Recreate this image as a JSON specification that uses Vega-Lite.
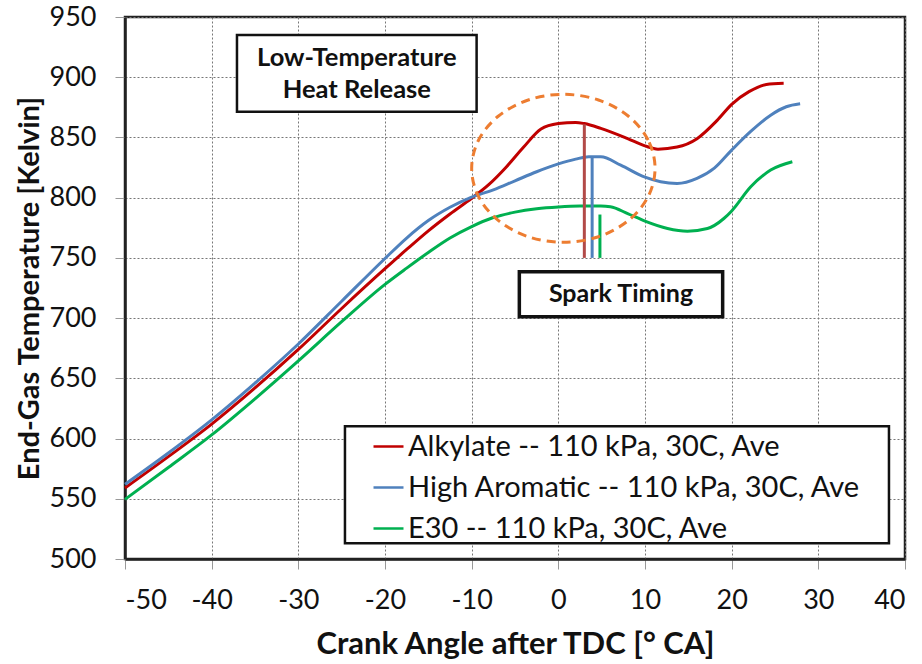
{
  "$schema": "https://vega.github.io/schema/vega-lite/v6.json",
  "width": 780,
  "height": 542,
  "autosize": {"type": "none"},
  "padding": {"left": 125, "top": 17, "right": 17, "bottom": 105},
  "background": "white",
  "config": {
    "font": "Lato",
    "view": {"stroke": "#222222", "strokeWidth": 2.5},
    "axis": {
      "labelFont": "Lato", "labelFontSize": 27, "labelColor": "#111111",
      "titleFont": "Lato", "titleFontWeight": "bold", "titleColor": "#111111",
      "grid": true, "gridColor": "#777777", "gridDash": [2, 2], "gridWidth": 1,
      "tickColor": "#999999", "tickSize": 10, "tickWidth": 1,
      "domainColor": "#222222", "domainWidth": 2.5
    }
  },
  "datasets": {
    "curves": [
      {"fuel": "Alkylate -- 110 kPa, 30C, Ave", "angle": -50, "temp": 559},
      {"fuel": "Alkylate -- 110 kPa, 30C, Ave", "angle": -45, "temp": 585},
      {"fuel": "Alkylate -- 110 kPa, 30C, Ave", "angle": -40, "temp": 612},
      {"fuel": "Alkylate -- 110 kPa, 30C, Ave", "angle": -35, "temp": 642},
      {"fuel": "Alkylate -- 110 kPa, 30C, Ave", "angle": -30, "temp": 674},
      {"fuel": "Alkylate -- 110 kPa, 30C, Ave", "angle": -25, "temp": 708},
      {"fuel": "Alkylate -- 110 kPa, 30C, Ave", "angle": -20, "temp": 741},
      {"fuel": "Alkylate -- 110 kPa, 30C, Ave", "angle": -17.5, "temp": 757},
      {"fuel": "Alkylate -- 110 kPa, 30C, Ave", "angle": -15, "temp": 772.5},
      {"fuel": "Alkylate -- 110 kPa, 30C, Ave", "angle": -12.5, "temp": 786.5},
      {"fuel": "Alkylate -- 110 kPa, 30C, Ave", "angle": -10, "temp": 799.5},
      {"fuel": "Alkylate -- 110 kPa, 30C, Ave", "angle": -8, "temp": 811},
      {"fuel": "Alkylate -- 110 kPa, 30C, Ave", "angle": -6, "temp": 825.5},
      {"fuel": "Alkylate -- 110 kPa, 30C, Ave", "angle": -4, "temp": 842},
      {"fuel": "Alkylate -- 110 kPa, 30C, Ave", "angle": -2, "temp": 857},
      {"fuel": "Alkylate -- 110 kPa, 30C, Ave", "angle": 0, "temp": 861.5},
      {"fuel": "Alkylate -- 110 kPa, 30C, Ave", "angle": 2, "temp": 862.5},
      {"fuel": "Alkylate -- 110 kPa, 30C, Ave", "angle": 3, "temp": 861.5},
      {"fuel": "Alkylate -- 110 kPa, 30C, Ave", "angle": 4.9, "temp": 857.5},
      {"fuel": "Alkylate -- 110 kPa, 30C, Ave", "angle": 8, "temp": 849},
      {"fuel": "Alkylate -- 110 kPa, 30C, Ave", "angle": 10, "temp": 843},
      {"fuel": "Alkylate -- 110 kPa, 30C, Ave", "angle": 11.5, "temp": 840.3},
      {"fuel": "Alkylate -- 110 kPa, 30C, Ave", "angle": 13.7, "temp": 842},
      {"fuel": "Alkylate -- 110 kPa, 30C, Ave", "angle": 16, "temp": 849},
      {"fuel": "Alkylate -- 110 kPa, 30C, Ave", "angle": 18.3, "temp": 864},
      {"fuel": "Alkylate -- 110 kPa, 30C, Ave", "angle": 20, "temp": 877.5},
      {"fuel": "Alkylate -- 110 kPa, 30C, Ave", "angle": 22, "temp": 888},
      {"fuel": "Alkylate -- 110 kPa, 30C, Ave", "angle": 24, "temp": 894},
      {"fuel": "Alkylate -- 110 kPa, 30C, Ave", "angle": 26, "temp": 895},
      {"fuel": "High Aromatic -- 110 kPa, 30C, Ave", "angle": -50, "temp": 562},
      {"fuel": "High Aromatic -- 110 kPa, 30C, Ave", "angle": -45, "temp": 588},
      {"fuel": "High Aromatic -- 110 kPa, 30C, Ave", "angle": -40, "temp": 615.5},
      {"fuel": "High Aromatic -- 110 kPa, 30C, Ave", "angle": -35, "temp": 646},
      {"fuel": "High Aromatic -- 110 kPa, 30C, Ave", "angle": -30, "temp": 678.5},
      {"fuel": "High Aromatic -- 110 kPa, 30C, Ave", "angle": -25, "temp": 714},
      {"fuel": "High Aromatic -- 110 kPa, 30C, Ave", "angle": -20, "temp": 749.5},
      {"fuel": "High Aromatic -- 110 kPa, 30C, Ave", "angle": -17.5, "temp": 766.5},
      {"fuel": "High Aromatic -- 110 kPa, 30C, Ave", "angle": -15, "temp": 781},
      {"fuel": "High Aromatic -- 110 kPa, 30C, Ave", "angle": -12.5, "temp": 792},
      {"fuel": "High Aromatic -- 110 kPa, 30C, Ave", "angle": -10, "temp": 800.5},
      {"fuel": "High Aromatic -- 110 kPa, 30C, Ave", "angle": -7.5, "temp": 806.5},
      {"fuel": "High Aromatic -- 110 kPa, 30C, Ave", "angle": -5, "temp": 814},
      {"fuel": "High Aromatic -- 110 kPa, 30C, Ave", "angle": -2.5, "temp": 821.5},
      {"fuel": "High Aromatic -- 110 kPa, 30C, Ave", "angle": 0, "temp": 828},
      {"fuel": "High Aromatic -- 110 kPa, 30C, Ave", "angle": 2, "temp": 832},
      {"fuel": "High Aromatic -- 110 kPa, 30C, Ave", "angle": 3.5, "temp": 834},
      {"fuel": "High Aromatic -- 110 kPa, 30C, Ave", "angle": 4.9, "temp": 834},
      {"fuel": "High Aromatic -- 110 kPa, 30C, Ave", "angle": 7.2, "temp": 827},
      {"fuel": "High Aromatic -- 110 kPa, 30C, Ave", "angle": 10, "temp": 817},
      {"fuel": "High Aromatic -- 110 kPa, 30C, Ave", "angle": 11.8, "temp": 813.2},
      {"fuel": "High Aromatic -- 110 kPa, 30C, Ave", "angle": 13.7, "temp": 811.8},
      {"fuel": "High Aromatic -- 110 kPa, 30C, Ave", "angle": 16, "temp": 816},
      {"fuel": "High Aromatic -- 110 kPa, 30C, Ave", "angle": 18, "temp": 824.5},
      {"fuel": "High Aromatic -- 110 kPa, 30C, Ave", "angle": 20, "temp": 839.5},
      {"fuel": "High Aromatic -- 110 kPa, 30C, Ave", "angle": 22.2, "temp": 855},
      {"fuel": "High Aromatic -- 110 kPa, 30C, Ave", "angle": 24.5, "temp": 868.5},
      {"fuel": "High Aromatic -- 110 kPa, 30C, Ave", "angle": 26.3, "temp": 875.5},
      {"fuel": "High Aromatic -- 110 kPa, 30C, Ave", "angle": 27.9, "temp": 878},
      {"fuel": "E30 -- 110 kPa, 30C, Ave", "angle": -50, "temp": 549.5},
      {"fuel": "E30 -- 110 kPa, 30C, Ave", "angle": -45, "temp": 576},
      {"fuel": "E30 -- 110 kPa, 30C, Ave", "angle": -40, "temp": 603},
      {"fuel": "E30 -- 110 kPa, 30C, Ave", "angle": -35, "temp": 633},
      {"fuel": "E30 -- 110 kPa, 30C, Ave", "angle": -30, "temp": 664.5},
      {"fuel": "E30 -- 110 kPa, 30C, Ave", "angle": -25, "temp": 697},
      {"fuel": "E30 -- 110 kPa, 30C, Ave", "angle": -20, "temp": 728},
      {"fuel": "E30 -- 110 kPa, 30C, Ave", "angle": -17.5, "temp": 741.5},
      {"fuel": "E30 -- 110 kPa, 30C, Ave", "angle": -15, "temp": 754.5},
      {"fuel": "E30 -- 110 kPa, 30C, Ave", "angle": -12.5, "temp": 766.5},
      {"fuel": "E30 -- 110 kPa, 30C, Ave", "angle": -10, "temp": 776},
      {"fuel": "E30 -- 110 kPa, 30C, Ave", "angle": -7.5, "temp": 783.5},
      {"fuel": "E30 -- 110 kPa, 30C, Ave", "angle": -5, "temp": 788},
      {"fuel": "E30 -- 110 kPa, 30C, Ave", "angle": -2.5, "temp": 790.8},
      {"fuel": "E30 -- 110 kPa, 30C, Ave", "angle": 0, "temp": 792.3},
      {"fuel": "E30 -- 110 kPa, 30C, Ave", "angle": 2.5, "temp": 793},
      {"fuel": "E30 -- 110 kPa, 30C, Ave", "angle": 4.9, "temp": 793},
      {"fuel": "E30 -- 110 kPa, 30C, Ave", "angle": 6, "temp": 792.4},
      {"fuel": "E30 -- 110 kPa, 30C, Ave", "angle": 8, "temp": 786.8},
      {"fuel": "E30 -- 110 kPa, 30C, Ave", "angle": 10, "temp": 780.5},
      {"fuel": "E30 -- 110 kPa, 30C, Ave", "angle": 12.6, "temp": 774.4},
      {"fuel": "E30 -- 110 kPa, 30C, Ave", "angle": 14.9, "temp": 772.2},
      {"fuel": "E30 -- 110 kPa, 30C, Ave", "angle": 17.2, "temp": 774.4},
      {"fuel": "E30 -- 110 kPa, 30C, Ave", "angle": 19.1, "temp": 782.7},
      {"fuel": "E30 -- 110 kPa, 30C, Ave", "angle": 20, "temp": 789},
      {"fuel": "E30 -- 110 kPa, 30C, Ave", "angle": 22.2, "temp": 809},
      {"fuel": "E30 -- 110 kPa, 30C, Ave", "angle": 24.5, "temp": 822.9},
      {"fuel": "E30 -- 110 kPa, 30C, Ave", "angle": 27, "temp": 829.8}
    ],
    "spark": [
      {"fuel": "Alkylate -- 110 kPa, 30C, Ave", "angle": 3.0, "low": 750, "high": 861},
      {"fuel": "High Aromatic -- 110 kPa, 30C, Ave", "angle": 3.9, "low": 750, "high": 834},
      {"fuel": "E30 -- 110 kPa, 30C, Ave", "angle": 4.8, "low": 750, "high": 786}
    ],
    "ellipse": [
      {"i": 0, "angle": 11.16, "temp": 824.35},
      {"i": 1, "angle": 10.36, "temp": 847.87},
      {"i": 2, "angle": 8.06, "temp": 867.8},
      {"i": 3, "angle": 4.63, "temp": 881.12},
      {"i": 4, "angle": 0.58, "temp": 885.8},
      {"i": 5, "angle": -3.47, "temp": 881.12},
      {"i": 6, "angle": -6.9, "temp": 867.8},
      {"i": 7, "angle": -9.2, "temp": 847.87},
      {"i": 8, "angle": -10.0, "temp": 824.35},
      {"i": 9, "angle": -9.2, "temp": 800.83},
      {"i": 10, "angle": -6.9, "temp": 780.9},
      {"i": 11, "angle": -3.47, "temp": 767.58},
      {"i": 12, "angle": 0.58, "temp": 762.9},
      {"i": 13, "angle": 4.63, "temp": 767.58},
      {"i": 14, "angle": 8.06, "temp": 780.9},
      {"i": 15, "angle": 10.36, "temp": 800.83}
    ],
    "one": [{}]
  },
  "layer": [
    {
      "data": {"name": "one"},
      "mark": {"type": "rect", "fill": "white", "stroke": "#111111", "strokeWidth": 2.5},
      "encoding": {
        "x": {"datum": -24.62, "type": "quantitative", "scale": {"domain": [-50, 40], "nice": false}, "axis": {"values": [-50, -40, -30, -20, -10, 0, 10, 20, 30, 40], "labelExpr": "'' + datum.value", "title": "Crank Angle after TDC [° CA]", "titleFontSize": 31, "labelPadding": 18, "titlePadding": 16}},
        "x2": {"datum": 38.15},
        "y": {"datum": 610.2, "type": "quantitative", "scale": {"domain": [500, 950], "nice": false}, "axis": {"values": [500, 550, 600, 650, 700, 750, 800, 850, 900, 950], "title": "End-Gas Temperature [Kelvin]", "titleFontSize": 29, "labelPadding": 19, "titlePadding": 5}},
        "y2": {"datum": 513.0}
      }
    },
    {
      "data": {"name": "curves"},
      "mark": {"type": "line", "interpolate": "monotone", "strokeWidth": 3},
      "encoding": {
        "x": {"field": "angle", "type": "quantitative"},
        "y": {"field": "temp", "type": "quantitative"},
        "color": {
          "field": "fuel", "type": "nominal",
          "scale": {"domain": ["Alkylate -- 110 kPa, 30C, Ave", "High Aromatic -- 110 kPa, 30C, Ave", "E30 -- 110 kPa, 30C, Ave"], "range": ["#C00000", "#4F81BD", "#00B050"]},
          "legend": {
            "title": null, "orient": "none", "legendX": 247, "legendY": 413,
            "labelFont": "Lato", "labelFontSize": 29, "labelColor": "#111111", "labelLimit": 600,
            "symbolType": "stroke", "symbolSize": 900, "symbolStrokeWidth": 2.5,
            "labelOffset": 3, "rowPadding": 9, "padding": 0
          }
        }
      }
    },
    {
      "data": {"name": "spark"},
      "mark": {"type": "rule", "strokeWidth": 3},
      "encoding": {
        "x": {"field": "angle", "type": "quantitative"},
        "y": {"field": "low", "type": "quantitative"},
        "y2": {"field": "high"},
        "stroke": {"field": "fuel", "type": "nominal", "scale": {"domain": ["Alkylate -- 110 kPa, 30C, Ave", "High Aromatic -- 110 kPa, 30C, Ave", "E30 -- 110 kPa, 30C, Ave"], "range": ["#B24A48", "#4F81BD", "#00B050"]}, "legend": null}
      }
    },
    {
      "data": {"name": "ellipse"},
      "mark": {"type": "line", "interpolate": "cardinal-closed", "stroke": "#ED7D31", "strokeWidth": 3, "strokeDash": [9, 6]},
      "encoding": {
        "x": {"field": "angle", "type": "quantitative"},
        "y": {"field": "temp", "type": "quantitative"},
        "order": {"field": "i", "type": "quantitative"}
      }
    },
    {
      "data": {"name": "one"},
      "mark": {"type": "rect", "fill": "white", "stroke": "#111111", "strokeWidth": 2.5},
      "encoding": {
        "x": {"datum": -37.08, "type": "quantitative"},
        "x2": {"datum": -9.43},
        "y": {"datum": 935.05, "type": "quantitative"},
        "y2": {"datum": 871.4}
      }
    },
    {
      "data": {"name": "one"},
      "mark": {"type": "text", "font": "Lato", "fontSize": 25.5, "fontWeight": "bold", "color": "#111111", "lineHeight": 31.7, "baseline": "middle", "align": "center"},
      "encoding": {
        "x": {"datum": -23.25, "type": "quantitative"},
        "y": {"datum": 915.6, "type": "quantitative"},
        "text": {"value": ["Low-Temperature", "Heat Release"]}
      }
    },
    {
      "data": {"name": "one"},
      "mark": {"type": "rect", "fill": "white", "stroke": "#111111", "strokeWidth": 3.5},
      "encoding": {
        "x": {"datum": -4.5, "type": "quantitative"},
        "x2": {"datum": 18.96},
        "y": {"datum": 738.5, "type": "quantitative"},
        "y2": {"datum": 701.2}
      }
    },
    {
      "data": {"name": "one"},
      "mark": {"type": "text", "font": "Lato", "fontSize": 25, "fontWeight": "bold", "color": "#111111", "baseline": "middle", "align": "center"},
      "encoding": {
        "x": {"datum": 7.23, "type": "quantitative"},
        "y": {"datum": 719.85, "type": "quantitative"},
        "text": {"value": "Spark Timing"}
      }
    }
  ]
}
